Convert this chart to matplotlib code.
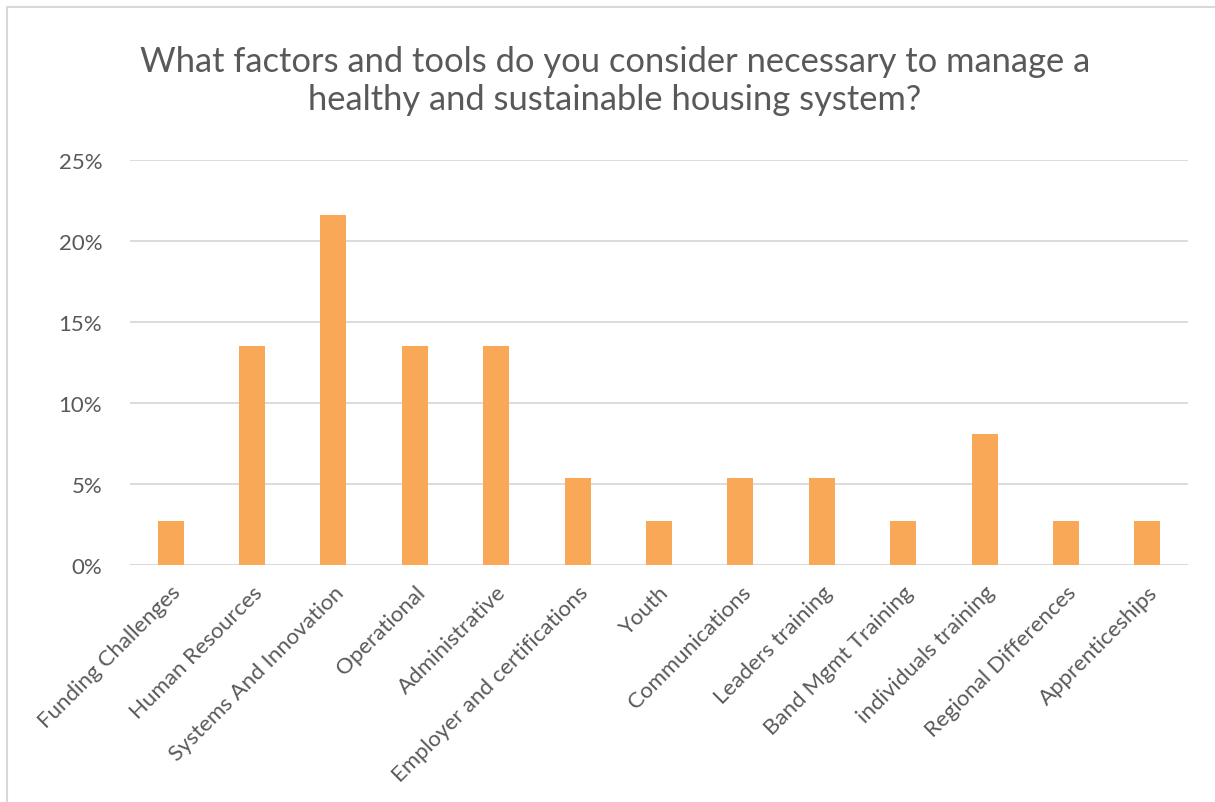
import matplotlib
matplotlib.use("Agg")
import matplotlib.pyplot as plt
from matplotlib.patches import Rectangle
from matplotlib.ticker import FuncFormatter, MultipleLocator

categories = [
    "Funding Challenges", "Human Resources", "Systems And Innovation",
    "Operational", "Administrative", "Employer and certifications", "Youth",
    "Communications", "Leaders training", "Band Mgmt Training",
    "individuals training", "Regional Differences", "Apprenticeships",
]
shares = [2.7, 13.5, 21.6, 13.5, 13.5, 5.4, 2.7, 5.4, 5.4, 2.7, 8.1, 2.7, 2.7]
title = "What factors and tools do you consider necessary to manage a\nhealthy and sustainable housing system?"

plt.rcParams['font.family'] = ['Lato', 'DejaVu Sans']
text_color = "#595959"
bar_color = "#F9A857"
grid_color = "#D9D9D9"

fig = plt.figure(figsize=(12.15, 8.03), dpi=100)
fig.patches.append(Rectangle((7 / 1215, -0.1), 1.2, 1 - 8 / 803 + 0.1,
                             transform=fig.transFigure, fill=False,
                             edgecolor="#D9D9D9", linewidth=1.5))

ax = fig.add_axes([130 / 1215, 1 - 566 / 803, (1188 - 130) / 1215, (566 - 161) / 803])
x = list(range(len(categories)))
ax.bar(x, shares, width=0.32, color=bar_color, zorder=3)
ax.set_xlim(-0.5, len(categories) - 0.5)
ax.set_ylim(0, 25)
ax.yaxis.set_major_locator(MultipleLocator(5))
ax.yaxis.set_major_formatter(FuncFormatter(lambda v, _: f"{v:.0f}%"))
ax.grid(axis="y", color=grid_color, linewidth=1.3, zorder=0)
for s in ax.spines.values():
    s.set_visible(False)
ax.axhline(0, color=grid_color, linewidth=1.5, zorder=2)
ax.tick_params(axis="both", length=0, colors=text_color, labelsize=16)
ax.tick_params(axis="y", pad=20)
ax.set_xticks(x)
ax.set_xticklabels(categories, rotation=45, ha="right", rotation_mode="anchor")
ax.tick_params(axis="x", pad=12)

fig.text(0.506, 1 - 81 / 803, title, ha="center", va="center", fontsize=24.8,
         color=text_color, linespacing=1.2)

fig.savefig("out.png", dpi=100, facecolor="white")
